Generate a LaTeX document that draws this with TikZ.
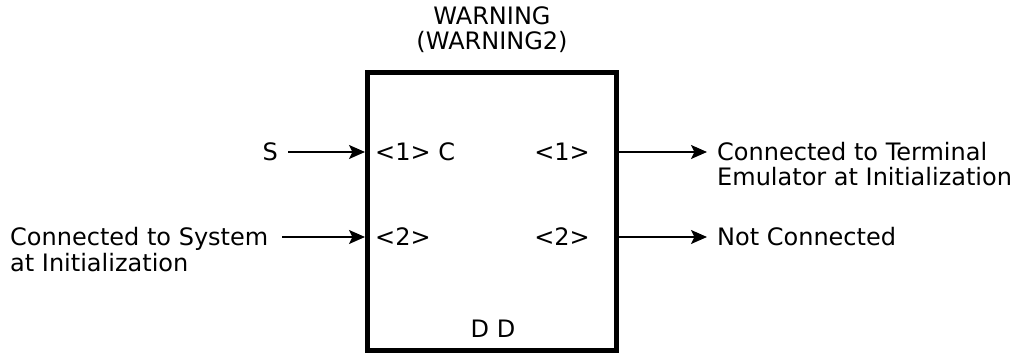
\documentclass[tikz,border=0pt]{standalone}
\usepackage{fontspec}
\setmainfont{DejaVu Sans}
\usetikzlibrary{arrows.meta,positioning}
\tikzset{
    % function block
    block/.style={draw, line width=5pt, minimum width=249pt,
        minimum height=278pt, inner sep=0pt},
    % text labels, centred on cap height
    lbl/.style={font=\fontsize{24}{25}\selectfont, inner sep=0pt,
        text height=17.5pt, text depth=0pt},
    % signal arrows
    sig/.style={-{Stealth[length=16pt,width=14pt,inset=3.5pt]}, line width=1.6pt},
}

\begin{document}
\begin{tikzpicture}[x=1pt,y=1pt]
    \useasboundingbox (0,0) rectangle (1015,355);
    \node[block] (blk) at (492,143.5) {};
    \node[lbl, anchor=base] (name) at (492,330) {WARNING};
    \node[lbl, anchor=base] (name2) at (492,305) {(WARNING2)};
    % inputs
    \node[lbl, anchor=east] (s) at (278,203) {S};
    \node[lbl, anchor=west] (sys) at (10,118) {Connected to System};
    \node[lbl, anchor=west] (sys2) at (10,92) {at Initialization};
    \coordinate (in1) at (blk.west |- s);
    \coordinate (in2) at (blk.west |- sys);
    \draw[sig, shorten <=10pt] (s) -- (in1);
    \draw[sig, shorten <=14pt] (sys) -- (in2);
    \node[lbl, anchor=west] (p1) at (375,203) {<1> C};
    \node[lbl, anchor=west] (p2) at (375,118) {<2>};
    % outputs
    \node[lbl, anchor=east] (q1) at (590,203) {<1>};
    \node[lbl, anchor=east] (q2) at (590,118) {<2>};
    \node[lbl, anchor=west] (term) at (717,203) {Connected to Terminal};
    \node[lbl, anchor=west] (term2) at (717,178) {Emulator at Initialization};
    \node[lbl, anchor=west] (nc) at (717,118) {Not Connected};
    \coordinate (out1) at (blk.east |- term);
    \coordinate (out2) at (blk.east |- nc);
    \draw[sig, shorten >=10pt] (out1) -- (term);
    \draw[sig, shorten >=10pt] (out2) -- (nc);
    \node[lbl, anchor=base] (dd) at (493,17) {D D};
\end{tikzpicture}
\end{document}
